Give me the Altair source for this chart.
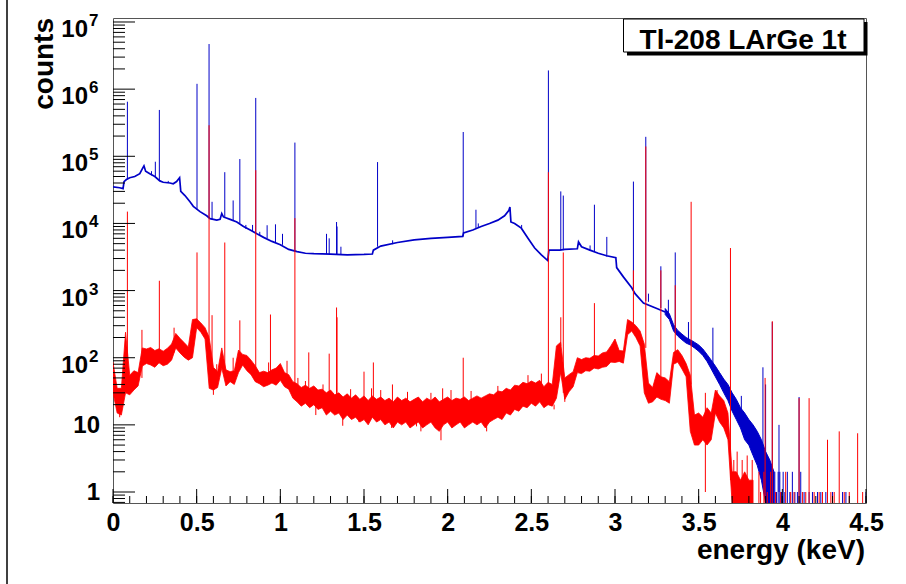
import altair as alt
import pandas as pd

# ---------------- data ----------------
X_DOMAIN = [0.0, 4.5]
Y_DOMAIN = [0.686, 1.147e7]

# blue spectrum continuum (energy keV, counts)
blue_e = [0.000, 0.040, 0.060, 0.066, 0.080, 0.100, 0.130, 0.160, 0.175, 0.185,
          0.195, 0.220, 0.250, 0.280, 0.300, 0.340, 0.360, 0.380, 0.398, 0.405,
          0.430, 0.460, 0.480, 0.520, 0.560, 0.580, 0.620, 0.640, 0.650, 0.660,
          0.700, 0.740, 0.780, 0.820, 0.860, 0.900, 0.950, 1.000, 1.050, 1.100,
          1.150, 1.200, 1.300, 1.400, 1.500, 1.550, 1.556, 1.600, 1.700, 1.800,
          1.900, 2.000, 2.090, 2.095, 2.150, 2.200, 2.250, 2.300, 2.340, 2.365,
          2.372, 2.378, 2.400, 2.440, 2.480, 2.520, 2.560, 2.598, 2.605, 2.670,
          2.700, 2.775, 2.782, 2.800, 2.850, 2.900, 2.950, 3.005, 3.010, 3.050,
          3.100, 3.120, 3.170, 3.250, 3.300]
blue_v = [3.5e4, 3.4e4, 3.3e4, 4.2e4, 4.5e4, 4.8e4, 5.0e4, 5.5e4, 6.5e4, 7.2e4,
          6.0e4, 5.5e4, 5.0e4, 4.3e4, 4.1e4, 4.0e4, 3.9e4, 4.2e4, 4.8e4, 3.0e4,
          2.6e4, 2.1e4, 1.8e4, 1.5e4, 1.3e4, 1.18e4, 1.12e4, 1.15e4, 1.4e4, 1.25e4,
          1.15e4, 1.05e4, 9.0e3, 8.0e3, 7.0e3, 6.2e3, 5.4e3, 4.8e3, 4.1e3, 3.8e3,
          3.6e3, 3.55e3, 3.5e3, 3.4e3, 3.45e3, 3.5e3, 4.0e3, 4.6e3, 5.2e3, 5.7e3,
          6.0e3, 6.2e3, 6.4e3, 7.2e3, 8.0e3, 9.0e3, 1.0e4, 1.12e4, 1.3e4, 1.55e4,
          1.75e4, 1.05e4, 1.0e4, 8.5e3, 6.0e3, 4.3e3, 3.4e3, 2.8e3, 4.0e3, 4.0e3,
          4.1e3, 4.2e3, 5.3e3, 4.5e3, 4.0e3, 3.6e3, 3.3e3, 3.1e3, 2.2e3, 1.6e3,
          1.1e3, 9.0e2, 6.5e2, 5.4e2, 4.8e2]

# blue noisy tail as a band (energy, low, high)
blue_band_e = [3.300, 3.325, 3.350, 3.375, 3.400, 3.425, 3.450, 3.475, 3.500, 3.525,
               3.550, 3.575, 3.600, 3.625, 3.650, 3.675, 3.700, 3.725, 3.750, 3.775,
               3.800, 3.825, 3.850, 3.875, 3.900, 3.925, 3.950]
blue_band_lo = [440, 370, 250, 210, 185, 165, 155, 140, 125, 108,
                88, 68, 52, 40, 30, 23, 16, 12, 9, 6,
                5, 3.5, 2.5, 1.5, 0.686, 0.686, 0.686]
blue_band_hi = [540, 450, 310, 255, 225, 200, 185, 170, 155, 135,
                112, 92, 75, 60, 48, 40, 30, 24, 18, 15,
                12, 10, 8, 6, 4, 3, 2]

# red spectrum as a noisy band (low / high edge), 0.025 keV spacing from 0
red_lo = [30, 15, 14, 30, 28, 33, 38, 75, 82, 78,
          72, 84, 76, 80, 92, 140, 118, 102, 92, 100,
          280, 240, 190, 35, 33, 36, 70, 38, 44, 40,
          60, 78, 64, 56, 44, 41, 37, 39, 42, 39,
          46, 37, 34, 25, 22, 19, 21, 18, 20, 17,
          18, 14, 16, 14, 15, 12, 14, 12, 13, 11,
          12, 10, 13, 11, 12, 10, 11, 9, 11, 10,
          11, 9, 10, 11, 9, 10, 11, 9, 8, 10,
          11, 9, 10, 11, 9, 10, 11, 10, 11, 9,
          11, 12, 13, 12, 15, 14, 17, 16, 19, 18,
          21, 19, 22, 18, 20, 19, 25, 60, 24, 31,
          37, 60, 58, 64, 63, 70, 68, 72, 74, 86,
          85, 88, 83, 220, 250, 200, 150, 30, 21, 22,
          26, 24, 23, 21, 80, 86, 68, 52, 8, 5,
          5, 6, 5, 6, 15, 11, 9, 6, 0.686, 0.686,
          0.686, 0.686, 0.686, 0.686]
red_hi = [85, 35, 35, 240, 55, 64, 60, 140, 135, 142,
          128, 136, 125, 138, 160, 230, 195, 168, 145, 370,
          380, 330, 280, 200, 72, 62, 140, 66, 62, 64,
          130, 112, 108, 92, 76, 60, 63, 60, 66, 70,
          82, 60, 56, 44, 41, 36, 39, 35, 38, 33,
          34, 30, 33, 28, 30, 26, 29, 25, 28, 24,
          27, 23, 27, 24, 26, 23, 25, 22, 26, 23,
          25, 22, 24, 26, 22, 25, 23, 26, 22, 24,
          26, 23, 25, 24, 26, 23, 25, 27, 25, 27,
          29, 28, 32, 31, 35, 33, 39, 38, 43, 41,
          45, 42, 46, 37, 43, 40, 150, 170, 50, 56,
          62, 100, 94, 100, 98, 108, 106, 118, 122, 150,
          190, 128, 126, 370, 340, 300, 250, 160, 42, 36,
          60, 52, 50, 44, 120, 132, 108, 82, 55, 14,
          15, 13, 18, 15, 33, 27, 23, 15, 2, 2,
          1.5, 2, 1.5, 1.5]

# sharp lines and noise spikes: energy, one end, other end
blue_pk_e = [0.086, 0.230, 0.253, 0.277, 0.330, 0.502, 0.574, 0.592, 0.668, 0.718,
             0.758, 0.794, 0.834, 0.853, 0.877, 0.921, 0.971, 1.013, 1.087, 1.276,
             1.292, 1.336, 1.339, 1.362, 1.581, 1.671, 2.093, 2.169, 2.183, 2.442,
             2.602, 2.676, 2.691, 2.851, 2.877, 2.951, 3.110, 3.184, 3.200, 3.274,
             3.319, 3.360, 3.439, 3.585, 3.755, 3.884, 3.900, 3.940, 3.980, 4.100,
             3.955, 3.965, 3.975, 3.985, 3.995, 4.005, 4.015, 4.030, 4.045, 4.060,
             4.075, 4.090, 4.110, 4.130, 4.160, 4.180, 4.210, 4.230, 4.260, 4.300,
             4.360, 4.380, 4.500]
blue_pk_top = [6.5e5, 6.0e4, 8.3e4, 4.9e5, 4.3e4, 1.2e6, 4.7e6, 2.1e4, 5.8e4, 2.2e4,
               9.1e4, 9.5e3, 9.5e3, 7.4e5, 7.5e3, 9.4e3, 9.7e3, 7.0e3, 1.6e5, 7.0e3,
               6.0e3, 1.05e4, 9.0e3, 4.5e3, 8.2e4, 5.6e3, 2.3e5, 1.6e4, 1.0e4, 9.5e3,
               1.9e6, 3.0e4, 2.6e4, 4.7e3, 1.9e4, 6.3e3, 4.2e4, 1.95e5, 9.0e2, 2.3e3,
               7.3e2, 3.7e3, 3.4e2, 2.8e2, 27, 72, 40, 340, 10, 26,
               2, 1, 2, 2, 1, 2, 1, 2, 1, 2,
               1, 1, 2, 1, 1, 1, 1, 1, 1, 1,
               1, 1, 1]
blue_pk_base = [4.5e4, 5.2e4, 5.0e4, 4.3e4, 4.0e4, 1.6e4, 1.2e4, 1.15e4, 1.2e4, 1.1e4,
                1.0e4, 8.3e3, 7.5e3, 7.0e3, 6.5e3, 6.0e3, 5.2e3, 4.8e3, 3.8e3, 3.5e3,
                3.5e3, 3.5e3, 3.5e3, 3.4e3, 4.5e3, 4.9e3, 6.4e3, 8.5e3, 8.8e3, 8.5e3,
                2.8e3, 4.0e3, 4.0e3, 3.9e3, 3.8e3, 3.2e3, 1.0e3, 7.0e2, 6.8e2, 5.5e2,
                4.6e2, 2.8e2, 1.8e2, 80, 10, 4, 3, 2, 1, 0.686,
                0.686, 0.686, 0.686, 0.686, 0.686, 0.686, 0.686, 0.686, 0.686, 0.686,
                0.686, 0.686, 0.686, 0.686, 0.686, 0.686, 0.686, 0.686, 0.686, 0.686,
                0.686, 0.686, 0.686]

red_pk_e = [0.086, 0.173, 0.277, 0.365, 0.502, 0.574, 0.592, 0.668, 0.718, 0.758,
            0.853, 0.941, 1.087, 1.170, 1.292, 1.336, 1.339, 1.500, 1.556, 1.670,
            1.970, 2.093, 2.602, 2.676, 2.691, 2.877, 3.110, 3.184, 3.274, 3.360,
            3.455, 3.540, 3.610, 3.690, 3.897, 3.940, 4.100, 4.160, 4.270, 4.340,
            4.450,
            0.040, 0.600, 1.212, 1.373, 1.470, 1.665, 1.814, 1.840, 1.960, 2.233,
            2.390, 2.636, 2.700, 1.105, 1.150, 1.255, 1.420, 1.545, 1.600, 1.760,
            1.900, 2.020, 2.140, 2.300, 2.480, 2.560, 0.620, 0.930, 1.040,
            3.710, 3.730, 3.760, 3.790, 3.820, 3.860, 3.870, 3.890, 3.910, 3.930,
            3.960, 3.990, 4.020, 4.050, 4.070, 4.120, 4.140, 4.190, 4.220, 4.240,
            4.290, 4.310, 4.370, 4.400, 4.480]
red_pk_top = [1.5e4, 260, 1.4e3, 280, 3.7e3, 2.9e5, 430, 5.2e3, 100, 360,
              6.2e4, 440, 1.2e4, 120, 115, 560, 400, 62, 85, 40,
              35, 100, 5.8e4, 400, 3.7e3, 650, 2.0e3, 1.4e5, 2.0e3, 1.2e3,
              2.1e4, 30, 33, 4.3e3, 50, 350, 25, 25, 6, 8,
              7.5,
              13, 28, 14, 9.7, 11, 9, 9.5, 8, 5.9, 8,
              16, 17, 22, 50, 45, 40, 34, 35, 33, 31,
              30, 33, 32, 38, 55, 58, 80, 85, 90,
              3, 4, 3, 3.5, 3, 2, 1, 2, 1, 2,
              1, 1, 2, 1, 1, 1, 1, 1, 1, 1,
              1, 1, 1, 1, 1]
red_pk_base = [40, 50, 100, 120, 350, 200, 50, 55, 50, 110,
               70, 50, 40, 30, 25, 25, 25, 20, 20, 18,
               15, 18, 25, 150, 30, 75, 300, 140, 40, 100,
               40, 1.0, 15, 1.5, 0.686, 0.686, 0.686, 0.686, 0.686, 0.686,
               0.686,
               20, 40, 20, 15, 14, 12, 12, 11, 10, 11,
               20, 20, 30, 30, 28, 25, 20, 20, 18, 18,
               17, 18, 18, 22, 30, 32, 50, 50, 55,
               0.686, 0.686, 0.686, 0.686, 0.686, 0.686, 0.686, 0.686, 0.686, 0.686,
               0.686, 0.686, 0.686, 0.686, 0.686, 0.686, 0.686, 0.686, 0.686, 0.686,
               0.686, 0.686, 0.686, 0.686, 0.686]

# axis ticks and labels
x_major = [0, 0.5, 1, 1.5, 2, 2.5, 3, 3.5, 4, 4.5]
x_minor = [round(i * 0.1, 1) for i in range(46)]
y_major = [1, 10, 1e2, 1e3, 1e4, 1e5, 1e6, 1e7]
y_minor = [k * 10 ** n for n in range(-1, 7) for k in range(2, 10)
           if Y_DOMAIN[0] <= k * 10 ** n <= Y_DOMAIN[1]]
y_plain_vals = [1, 10]
y_plain_text = ["1", "10"]
y_pow_vals = [1e2, 1e3, 1e4, 1e5, 1e6, 1e7]
y_pow_exp = ["2", "3", "4", "5", "6", "7"]

TITLE = "Tl-208 LArGe 1t"
X_TITLE = "energy (keV)"
Y_TITLE = "counts"

# ---------------- chart ----------------
BLUE = "#0000c8"
RED = "#ff0000"
FONT = "Liberation Sans"
W, H = 753, 485

df_blue = pd.DataFrame({"e": blue_e, "v": blue_v})
df_bband = pd.DataFrame({"e": blue_band_e, "lo": blue_band_lo, "hi": blue_band_hi})
red_e = [round(i * 0.025, 3) for i in range(len(red_lo))]
df_rband = pd.DataFrame({"e": red_e, "lo": red_lo, "hi": red_hi})
df_bpk = pd.DataFrame({"e": blue_pk_e, "a": blue_pk_top, "b": blue_pk_base})
df_rpk = pd.DataFrame({"e": red_pk_e, "a": red_pk_top, "b": red_pk_base})

xs = alt.Scale(type="linear", domain=X_DOMAIN, nice=False, zero=False)
ys = alt.Scale(type="log", domain=Y_DOMAIN, nice=False)
xaxis = alt.Axis(values=x_major, labelExpr="'' + datum.value", ticks=False, domain=False,
                 grid=False, labelFontSize=25, labelFont=FONT, labelFontWeight="bold",
                 labelColor="black", labelPadding=7, labelFlush=False, labelOverlap=False,
                 title=None)


def X(field="e:Q"):
    return alt.X(field, scale=xs, axis=xaxis)


def Y(field):
    return alt.Y(field, scale=ys, axis=None)


blue_line = alt.Chart(df_blue).mark_line(color=BLUE, strokeWidth=1.7, clip=True).encode(
    x=X(), y=Y("v:Q"))
blue_band = alt.Chart(df_bband).mark_area(fill=BLUE, stroke=BLUE, strokeWidth=1,
                                          clip=True).encode(
    x=X(), y=Y("lo:Q"), y2="hi:Q")
blue_pk = alt.Chart(df_bpk).mark_rule(color=BLUE, strokeWidth=1, clip=True).encode(
    x=X(), y=Y("a:Q"), y2="b:Q")
red_band = alt.Chart(df_rband).mark_area(fill=RED, stroke=RED, strokeWidth=0.8,
                                         clip=True).encode(
    x=X(), y=Y("lo:Q"), y2="hi:Q")
red_pk = alt.Chart(df_rpk).mark_rule(color=RED, strokeWidth=1, clip=True).encode(
    x=X(), y=Y("a:Q"), y2="b:Q")

# ticks (inside the frame, ROOT style)
ymaj = alt.Chart(pd.DataFrame({"v": y_major})).mark_rule(color="black", strokeWidth=1).encode(
    x=alt.value(0), x2=alt.value(22), y=Y("v:Q"))
ymin = alt.Chart(pd.DataFrame({"v": y_minor})).mark_rule(color="black", strokeWidth=1).encode(
    x=alt.value(0), x2=alt.value(12), y=Y("v:Q"))
xmaj = alt.Chart(pd.DataFrame({"e": x_major})).mark_rule(color="black", strokeWidth=1).encode(
    x=X(), y=alt.value(H), y2=alt.value(H - 14))
xmin = alt.Chart(pd.DataFrame({"e": x_minor})).mark_rule(color="black", strokeWidth=1).encode(
    x=X(), y=alt.value(H), y2=alt.value(H - 7))

# y tick labels
ylab_plain = alt.Chart(pd.DataFrame({"v": y_plain_vals, "t": y_plain_text})).mark_text(
    font=FONT, fontWeight="bold", fontSize=24, align="right", baseline="middle", color="black",
    dy=1).encode(x=alt.value(-13), y=Y("v:Q"), text="t:N")
ylab_base = alt.Chart(pd.DataFrame({"v": y_pow_vals, "t": ["10"] * len(y_pow_vals)})).mark_text(
    font=FONT, fontWeight="bold", fontSize=24, align="right", baseline="middle", color="black",
    dy=8).encode(x=alt.value(-25), y=Y("v:Q"), text="t:N")
ylab_exp = alt.Chart(pd.DataFrame({"v": y_pow_vals, "t": y_pow_exp})).mark_text(
    font=FONT, fontWeight="bold", fontSize=17, align="left", baseline="middle", color="black",
    dy=-1).encode(x=alt.value(-24), y=Y("v:Q"), text="t:N")

one = pd.DataFrame({"k": [0]})
x_title = alt.Chart(one).mark_text(font=FONT, fontWeight="bold", fontSize=28, align="right",
                                   baseline="alphabetic", color="black").encode(
    x=alt.value(752), y=alt.value(541), text=alt.value(X_TITLE))
y_title = alt.Chart(one).mark_text(font=FONT, fontWeight="bold", fontSize=28, align="right",
                                   baseline="alphabetic", angle=270, color="black").encode(
    x=alt.value(-60), y=alt.value(0), text=alt.value(Y_TITLE))

# title box with shadow
box_shadow = alt.Chart(one).mark_rect(color="black").encode(
    x=alt.value(514), x2=alt.value(754.5), y=alt.value(4), y2=alt.value(37.5))
box = alt.Chart(one).mark_rect(fill="white", stroke="black", strokeWidth=1).encode(
    x=alt.value(510.5), x2=alt.value(751), y=alt.value(1), y2=alt.value(34))
box_text = alt.Chart(one).mark_text(font=FONT, fontWeight="bold", fontSize=28, align="center",
                                    baseline="alphabetic", color="black").encode(
    x=alt.value(630), y=alt.value(31), text=alt.value(TITLE))

# canvas border line on the left
border = alt.Chart(one).mark_rule(color="black", strokeWidth=1.5).encode(
    x=alt.value(-106), y=alt.value(-18), y2=alt.value(H + 81))

chart = alt.layer(
    blue_line, blue_band, blue_pk, red_band, red_pk,
    ymaj, ymin, xmaj, xmin, ylab_plain, ylab_base, ylab_exp,
    x_title, y_title, box_shadow, box, box_text, border
).properties(
    width=W, height=H,
    autosize=alt.AutoSizeParams(type="none"),
    padding={"left": 113, "top": 18, "right": 40, "bottom": 81},
    background="white",
).configure_view(stroke="#555555", strokeWidth=1)

chart.save("out.html", embed_options={"renderer": "svg", "actions": False})
